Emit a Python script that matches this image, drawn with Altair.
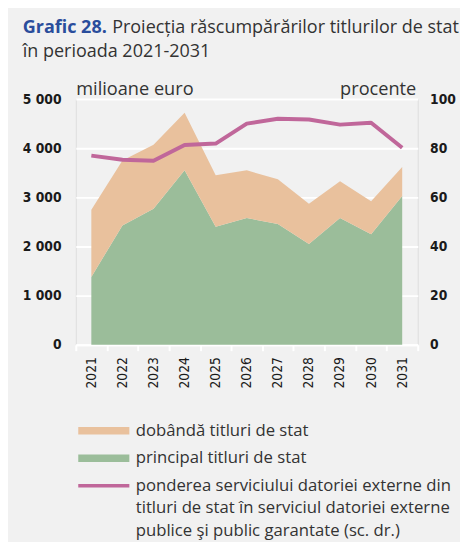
import altair as alt
import pandas as pd

years = [str(y) for y in range(2021, 2032)]
principal = [1380, 2430, 2770, 3550, 2400, 2580, 2460, 2050, 2580, 2250, 3030]
dobanda = [1370, 1320, 1300, 1170, 1050, 970, 910, 820, 750, 670, 590]
pondere = [77.0, 75.3, 74.9, 81.3, 81.9, 90.0, 92.0, 91.7, 89.6, 90.4, 80.2]

s_int = "dobândă titluri de stat"
s_pr = "principal titluri de stat"
s_pct = ("ponderea serviciului datoriei externe din|"
         "titluri de stat în serviciul datoriei externe|"
         "publice şi public garantate (sc. dr.)")

title_label = "Grafic 28."
title_line1 = "Proiecția răscumpărărilor titlurilor de stat"
title_line2 = "în perioada 2021-2031"

left_ticks = [0, 1000, 2000, 3000, 4000, 5000]
right_ticks = [0, 20, 40, 60, 80, 100]

area_df = pd.DataFrame({
    "year": years * 2,
    "series": [s_pr] * len(years) + [s_int] * len(years),
    "value": principal + dobanda,
    "ord": [0] * len(years) + [1] * len(years),
})
line_df = pd.DataFrame({"year": years, "series": [s_pct] * len(years), "value": pondere})

C_INT = "#e9c19d"
C_PR = "#9bbd9a"
C_PCT = "#c0679a"
BLUE = "#2a4d9c"
BG = "#f1f1f1"
TXT = "#333333"
NUM_FONT = "DejaVu Sans Condensed, sans-serif"
TXT_FONT = "Open Sans"

color_scale = alt.Scale(domain=[s_int, s_pr, s_pct], range=[C_INT, C_PR, C_PCT])

rect_path = "M-1,-0.74H9.4V0.74H-1Z"
line_path = "M-1,-0.36H9.4V0.36H-1Z"

legend = alt.Legend(
    title=None,
    orient="none",
    legendX=-1,
    legendY=329,
    direction="vertical",
    labelFont=TXT_FONT,
    labelFontSize=17,
    labelColor=TXT,
    labelLimit=600,
    labelOffset=45,
    labelExpr="split(datum.label, '|')",
    symbolSize=100,
    symbolStrokeWidth=0,
    symbolOpacity=1,
    symbolType={"expr": f"indexof(datum.value, '|') >= 0 ? '{line_path}' : '{rect_path}'"},
    rowPadding=10,
)

x_enc = alt.X(
    "year:O",
    bandPosition=0.5,
    scale=alt.Scale(type="band", paddingInner=0, paddingOuter=0),
    axis=alt.Axis(
        title=None,
        labelAngle=270,
        labelAlign="right",
        labelBaseline="middle",
        labelFont=NUM_FONT,
        labelFontSize=14,
        labelColor="#1a1a1a",
        labelPadding=6,
        tickBand="extent",
        ticks=True,
        tickColor="white",
        tickSize=6,
        tickWidth=2,
        domain=True,
        domainColor="white",
        domainWidth=2,
        grid=False,
    ),
)

area = alt.Chart(area_df).mark_area(opacity=1).encode(
    x=x_enc,
    y=alt.Y(
        "value:Q",
        stack="zero",
        scale=alt.Scale(domain=[0, 5000]),
        axis=alt.Axis(
            values=left_ticks,
            labelExpr="replace(format(datum.value, ',d'), ',', ' ')",
            labelFont=NUM_FONT,
            labelFontSize=14,
            labelFontWeight="bold",
            labelColor="#1a1a1a",
            labelPadding=15,
            ticks=False,
            domain=False,
            grid=True,
            gridColor="white",
            gridWidth=2,
            title="milioane euro",
            titleAngle=0,
            titleX=0,
            titleY=-4.5,
            titleAlign="left",
            titleBaseline="alphabetic",
            titleFont=TXT_FONT,
            titleFontSize=18.5,
            titleFontWeight="normal",
            titleColor=TXT,
        ),
    ),
    color=alt.Color("series:N", scale=color_scale, legend=legend),
    order=alt.Order("ord:Q"),
)

line = alt.Chart(line_df).mark_line(strokeWidth=4, strokeJoin="round").encode(
    x=x_enc,
    y=alt.Y(
        "value:Q",
        scale=alt.Scale(domain=[0, 100]),
        axis=alt.Axis(
            orient="right",
            values=right_ticks,
            labelFont=NUM_FONT,
            labelFontSize=14,
            labelFontWeight="bold",
            labelColor="#1a1a1a",
            labelPadding=12,
            ticks=False,
            domain=False,
            grid=False,
            title="procente",
            titleAngle=0,
            titleX=-2,
            titleY=-4.5,
            titleAlign="right",
            titleBaseline="alphabetic",
            titleFont=TXT_FONT,
            titleFontSize=18.5,
            titleFontWeight="normal",
            titleColor=TXT,
        ),
    ),
    color=alt.Color("series:N", scale=color_scale, legend=legend),
)

one = pd.DataFrame({"k": [0]})
t_label = alt.Chart(one).mark_text(
    text=title_label, x=-54, y=-67.7, align="left", baseline="alphabetic",
    font=TXT_FONT, fontSize=18.3, fontWeight="bold", color=BLUE,
)
t_line1 = alt.Chart(one).mark_text(
    text=title_line1, x=37, y=-67.7, align="left", baseline="alphabetic",
    font=TXT_FONT, fontSize=18.3, color=TXT,
)
t_line2 = alt.Chart(one).mark_text(
    text=title_line2, x=-54, y=-42.7, align="left", baseline="alphabetic",
    font=TXT_FONT, fontSize=18.3, color=TXT,
)

chart = alt.layer(area, line, t_label, t_line1, t_line2).resolve_scale(y="independent").properties(
    width=348,
    height=250,
    background=BG,
    autosize=alt.AutoSizeParams(type="none"),
    padding={"left": 69, "top": 88, "right": 43, "bottom": 196},
).configure_view(stroke=None).configure(style={"guide-label": {"lineHeight": 23}})

chart.save("out.html", embed_options={"renderer": "svg", "actions": False})
